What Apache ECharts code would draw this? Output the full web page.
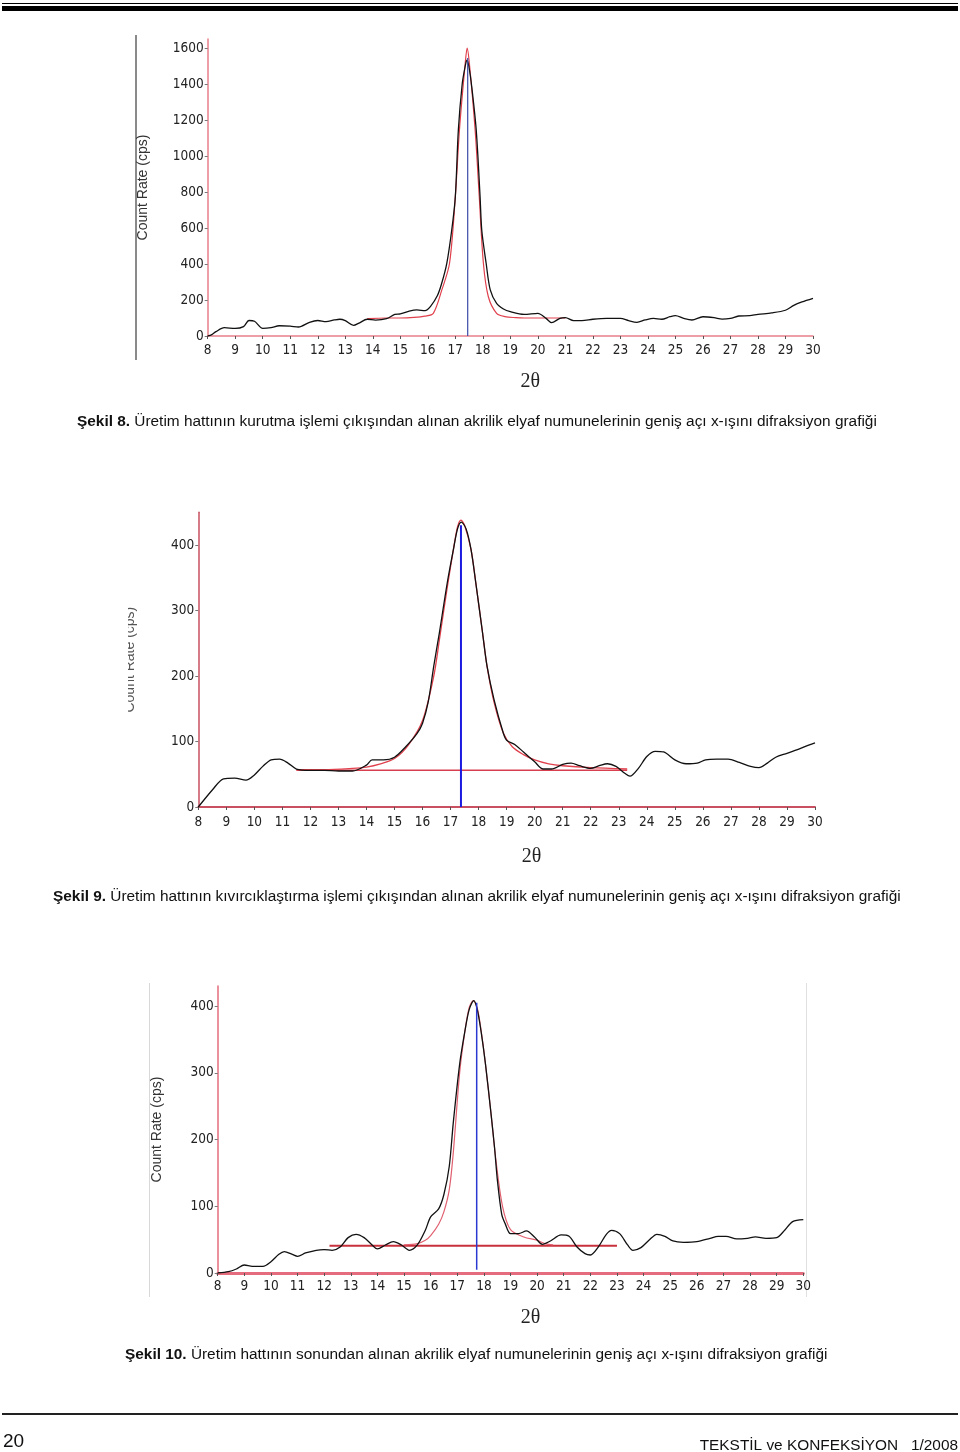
<!DOCTYPE html>
<html><head><meta charset="utf-8">
<script src="https://cdn.jsdelivr.net/npm/echarts@6/dist/echarts.min.js"></script>
<style>html,body{margin:0;padding:0;background:#fff}#c{width:960px;height:1452px}</style>
</head><body><div id="c"></div>
<script>
// ---------- DATA ----------
const xTicks = [8,9,10,11,12,13,14,15,16,17,18,19,20,21,22,23,24,25,26,27,28,29,30];
const yTicks1 = [0,200,400,600,800,1000,1200,1400,1600];
const yTicks2 = [0,100,200,300,400];
const yTicks3 = [0,100,200,300,400];

// Şekil 8
const c1Black = [[8,0],[8.15,8],[8.3,24],[8.6,46],[9.0,42],[9.3,52],[9.5,86],[9.7,82],[10.0,42],[10.3,46],[10.6,57],[11.0,55],[11.3,50],[11.7,76],[12.0,86],[12.3,80],[12.6,89],[12.8,93],[13.0,85],[13.3,59],[13.5,72],[13.8,93],[14.1,88],[14.5,96],[14.8,120],[15.0,123],[15.3,137],[15.6,145],[15.9,141],[16.1,165],[16.35,225],[16.5,290],[16.69,404],[16.87,589],[17.0,774],[17.11,1144],[17.25,1400],[17.36,1500],[17.42,1533],[17.49,1500],[17.6,1380],[17.76,1144],[17.9,774],[17.96,589],[18.12,404],[18.27,256],[18.5,181],[18.75,150],[19.0,135],[19.5,120],[20.0,126],[20.3,98],[20.5,74],[20.8,98],[21.0,102],[21.3,85],[21.6,85],[22.0,93],[22.5,98],[23.0,98],[23.3,85],[23.6,76],[23.9,89],[24.2,98],[24.5,93],[24.8,107],[25.0,113],[25.3,98],[25.6,89],[26.0,107],[26.4,102],[26.7,94],[27.0,98],[27.3,111],[27.7,113],[28.0,120],[28.5,128],[29.0,143],[29.3,170],[29.6,189],[30.0,209]];
const c1Red = [[13.8,97],[14.5,100],[15.0,100],[15.5,103],[15.9,110],[16.2,126],[16.51,256],[16.79,404],[17.0,774],[17.15,1144],[17.36,1515],[17.43,1600],[17.51,1515],[17.72,1144],[17.87,774],[18.02,404],[18.2,218],[18.5,126],[18.8,108],[19.2,102],[19.5,100],[20.0,100],[21.0,100]];
const c1Blue = [[17.45,0],[17.45,1545]];

// Şekil 9
const c2Black = [[8,0],[8.5,26],[8.9,43],[9.3,44],[9.7,41],[10.0,49],[10.3,62],[10.6,72],[10.9,73],[11.2,67],[11.5,58],[12.0,56],[12.5,56],[13.0,55],[13.5,55],[14.0,64],[14.2,72],[14.6,72],[15.0,76],[15.4,92],[15.8,112],[16.0,128],[16.2,160],[16.4,215],[16.6,266],[16.88,342],[17.1,393],[17.25,425],[17.38,435],[17.55,425],[17.73,393],[17.9,342],[18.14,266],[18.3,215],[18.55,164],[18.88,113],[19.0,102],[19.3,95],[19.6,84],[20.0,69],[20.3,58],[20.6,58],[21.0,65],[21.3,67],[21.6,63],[22.0,59],[22.3,63],[22.6,66],[22.9,62],[23.2,52],[23.4,47],[23.7,59],[24.0,77],[24.3,85],[24.6,84],[25.0,72],[25.4,66],[25.8,67],[26.1,72],[26.5,73],[26.9,73],[27.3,68],[27.7,62],[28.0,60],[28.3,67],[28.6,76],[29.0,82],[29.4,88],[29.8,95],[30.0,98]];
const c2Red = [[11.5,57],[12.5,57],[13.5,59],[14.0,61],[14.5,66],[15.0,74],[15.5,95],[16.0,132],[16.4,200],[16.6,255],[16.88,335],[17.1,393],[17.25,428],[17.37,438],[17.5,430],[17.73,393],[17.9,342],[18.14,266],[18.3,215],[18.55,160],[18.88,113],[19.2,92],[19.6,80],[20.0,72],[20.5,66],[21.0,63],[22.0,60],[23.3,58]];
const c2Base = [[11.5,56],[23.3,56]];
const c2Blue = [[17.37,0],[17.37,430]];

// Şekil 10
const c3Black = [[8,0],[8.4,2],[8.7,6],[9.0,12],[9.3,10],[9.7,10],[10.0,17],[10.3,28],[10.5,32],[10.8,28],[11.0,25],[11.3,30],[11.7,34],[12.0,35],[12.3,34],[12.6,39],[12.9,53],[13.2,58],[13.5,53],[13.8,42],[14.0,36],[14.3,42],[14.6,47],[14.9,42],[15.2,34],[15.5,42],[15.8,64],[16.0,84],[16.3,96],[16.5,118],[16.7,160],[16.85,225],[17.09,313],[17.29,363],[17.45,395],[17.62,408],[17.75,395],[17.89,363],[18.06,313],[18.27,238],[18.4,188],[18.51,138],[18.67,88],[18.8,74],[19.0,59],[19.3,59],[19.6,63],[19.9,54],[20.2,43],[20.5,48],[20.9,57],[21.2,55],[21.5,39],[21.8,29],[22.0,27],[22.3,39],[22.6,58],[22.8,64],[23.1,59],[23.4,42],[23.6,34],[23.9,38],[24.2,49],[24.5,58],[24.8,55],[25.1,48],[25.5,46],[26.0,47],[26.5,52],[26.8,55],[27.1,55],[27.5,51],[27.9,52],[28.2,54],[28.6,52],[29.0,53],[29.3,64],[29.6,77],[30.0,80]];
const c3Red = [[15.0,42],[15.5,44],[15.8,49],[16.0,56],[16.3,73],[16.5,92],[16.7,125],[16.85,180],[17.09,300],[17.29,363],[17.45,398],[17.6,408],[17.75,397],[17.89,365],[18.06,313],[18.27,238],[18.45,170],[18.7,100],[19.0,65],[19.5,54],[20.0,49],[20.3,44],[20.6,42]];
const c3Base = [[12.2,41],[23.0,41]];
const c3Blue = [[17.73,5],[17.73,405]];

const captions = [
  {b:'Şekil 8.', t:' Üretim hattının kurutma işlemi çıkışından alınan akrilik elyaf numunelerinin geniş açı x-ışını difraksiyon grafiği'},
  {b:'Şekil 9.', t:' Üretim hattının kıvırcıklaştırma işlemi çıkışından alınan akrilik elyaf numunelerinin geniş açı x-ışını difraksiyon grafiği'},
  {b:'Şekil 10.', t:' Üretim hattının sonundan alınan akrilik elyaf numunelerinin geniş açı x-ışını difraksiyon grafiği'}
];
const footerLeft = '20';
const footerRight = 'TEKSTİL ve KONFEKSİYON   1/2008';

// ---------- STYLE ----------
const NARROW = '"DejaVu Sans"';
const SANS = '"Liberation Sans",Arial,sans-serif';
const SERIF = '"Liberation Serif","DejaVu Serif",serif';

function xAxisCfg(gi, color, width, gap, shift, margin){
  return {type:'value', gridIndex:gi, min:8, max:30, interval:1,
    axisLine:{show:true, onZero:false, lineStyle:{color:color, width:width}},
    axisTick:{show:true, length:3, lineStyle:{color:'#555'}},
    axisLabel:{color:'#222', fontFamily:NARROW, fontWeight:'condensed', fontSize:13.5, margin:margin,
      customValues:xTicks, formatter:function(v){return String(v);}},
    splitLine:{show:false},
    name:'2θ', nameLocation:'middle', nameGap:gap,
    nameTextStyle:{fontFamily:SERIF, fontSize:20, color:'#222', padding:[0,0,0,shift]}
  };
}
function yAxisCfg(gi, max, ticks, color, gap, nameColor){
  return {type:'value', gridIndex:gi, min:0, max:max,
    axisLine:{show:true, lineStyle:{color:color, width:1.5}},
    axisTick:{show:true, length:3, customValues:ticks, lineStyle:{color:'#777'}},
    axisLabel:{color:'#222', fontFamily:NARROW, fontWeight:'condensed', fontSize:13.5, margin:4, customValues:ticks,
      padding:[0,0,4,0], formatter:function(v){return String(v);}},
    splitLine:{show:false},
    name:'Count Rate (cps)', nameLocation:'middle', nameGap:gap, nameRotate:90,
    nameTextStyle:{fontFamily:SANS, fontSize:14, color:nameColor||'#333'}
  };
}
function line(data, gi, color, width, smooth, z){
  return {type:'line', data:data, xAxisIndex:gi, yAxisIndex:gi, showSymbol:false,
    smooth:smooth, lineStyle:{color:color, width:width}, z:z, silent:true, animation:false};
}
function caption(c, left, top){
  return {type:'text', left:left, top:top, z:10, style:{text:'{b|'+c.b+'}{n|'+c.t+'}', fill:'#111',
    rich:{b:{fontWeight:'bold', fontFamily:SANS, fontSize:15.4, fill:'#111'},
          n:{fontFamily:SANS, fontSize:15.4, fill:'#111'}}}};
}

const chart = echarts.init(document.getElementById('c'), null, {renderer:'canvas'});
chart.setOption({
  animation:false,
  backgroundColor:'#fff',
  grid:[
    {left:207.7, top:39, width:605.3, height:297},
    {left:198.3, top:512.25, width:616.7, height:294.75},
    {left:217.7, top:986, width:585.6, height:287}
  ],
  xAxis:[
    xAxisCfg(0,'#e8808c',1.5,36,40,7),
    xAxisCfg(1,'#c85060',2,40,50,8),
    xAxisCfg(2,'#e46c7c',3,35,40,6)
  ],
  yAxis:[
    yAxisCfg(0,1650,yTicks1,'#e8808c',58),
    yAxisCfg(1,450,yTicks2,'#c85060',61,'#555'),
    yAxisCfg(2,430,yTicks3,'#e46c7c',54)
  ],
  series:[
    line(c1Red,0,'#e0404c',1.2,0.3,2),
    line(c1Black,0,'#111',1.3,0.3,3),
    line(c1Blue,0,'#3a4aa8',1.2,false,4),
    line(c2Base,1,'#d84050',1.4,false,2),
    line(c2Red,1,'#e0404c',1.3,0.3,2),
    line(c2Black,1,'#111',1.3,0.3,3),
    line(c2Blue,1,'#1a1ae0',2,false,4),
    line(c3Base,2,'#c8303c',2,false,2),
    line(c3Red,2,'#e06070',1.2,0.3,2),
    line(c3Black,2,'#111',1.3,0.3,3),
    line(c3Blue,2,'#2a3ad0',1.5,false,4)
  ],
  graphic:[
    {type:'rect', shape:{x:2,y:3,width:956,height:1}, style:{fill:'#000'}},
    {type:'rect', shape:{x:2,y:6,width:956,height:5}, style:{fill:'#000'}},
    {type:'rect', shape:{x:135,y:35,width:2,height:325}, style:{fill:'#8a8a8a'}},
    {type:'rect', shape:{x:149,y:983,width:1,height:314}, style:{fill:'#d8d8d8'}},
    {type:'rect', shape:{x:806,y:983,width:1,height:314}, style:{fill:'#e0e0e0'}},
    {type:'rect', shape:{x:100,y:590,width:28,height:140}, style:{fill:'#fff'}, z:100},
    caption(captions[0], 77, 414),
    caption(captions[1], 53, 889),
    caption(captions[2], 125, 1347),
    {type:'rect', shape:{x:2,y:1413,width:956,height:2}, style:{fill:'#222'}},
    {type:'text', left:3, top:1432, style:{text:footerLeft, font:'19px '+SANS, fill:'#111'}},
    {type:'text', right:2, top:1438, style:{text:footerRight, font:'15.4px '+SANS, fill:'#111'}}
  ]
});
</script></body></html>
